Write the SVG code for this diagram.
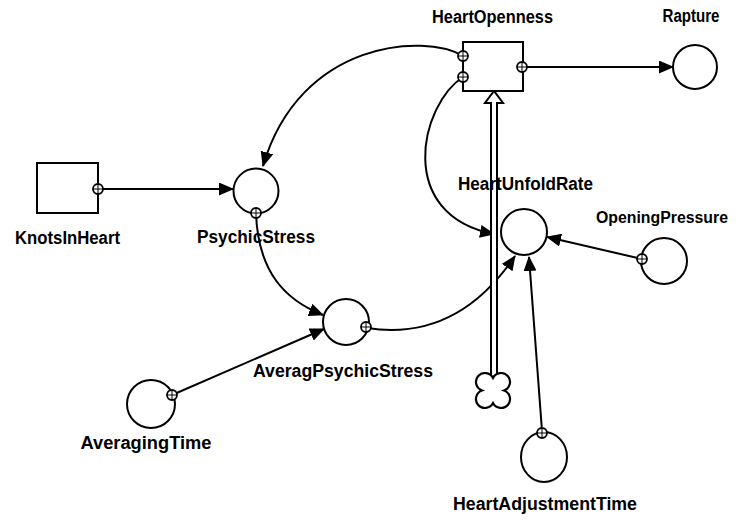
<svg xmlns="http://www.w3.org/2000/svg" width="739" height="520" viewBox="0 0 739 520">
<style>
.lbl{font-family:"Liberation Sans",Arial,sans-serif;font-size:18px;font-weight:bold;fill:#000;text-anchor:middle}
.stock{fill:#fff;stroke:#000;stroke-width:2}
.aux{fill:#fff;stroke:#000;stroke-width:2}
.conn{fill:none;stroke:#000;stroke-width:2}
.arr{fill:none;stroke:#000;stroke-width:2;marker-end:url(#ah)}
</style>
<defs>
<marker id="ah" markerUnits="userSpaceOnUse" markerWidth="15" markerHeight="13" refX="14" refY="6.5" orient="auto">
<path d="M0,0 L15,6.5 L0,13 Z" fill="#000"/>
</marker>
<g id="dot">
<circle r="5" fill="#fff" stroke="#000" stroke-width="1.8"/>
<path d="M0,-5 V5 M-5,0 H5" stroke="#000" stroke-width="1"/>
</g>
</defs>
<rect width="739" height="520" fill="#fff"/>

<g id="connectors">
<path class="arr" d="M522,67 L673,67"/>
<path class="arr" d="M98,189 L233,189"/>
<path class="arr" d="M463,56 C425,33 300,40 263,166"/>
<path class="arr" d="M463,77 C420,105 395,215 494,234"/>
<path class="arr" d="M256,213 C258,272 285,300 323,315"/>
<path class="arr" d="M172,395 L324,329"/>
<path class="arr" d="M367,328 C425,337 475,315 515,256"/>
<path class="arr" d="M642,259 L547,237"/>
<path class="arr" d="M542,431 L529,257"/>
</g>

<g id="flow">
<path d="M491,378 L491,103 L485,103 L494,91 L503,103 L497,103 L497,378" fill="#fff" stroke="#000" stroke-width="2"/>
<path d="M493,377.9 A9,9 0 1 1 504,390.5 A9,9 0 1 1 493,403.1 A9,9 0 1 1 482,390.5 A9,9 0 1 1 493,377.9 Z" fill="#fff" stroke="#000" stroke-width="2.2"/>
</g>

<g id="HeartOpenness">
<rect class="stock" x="463" y="42" width="60" height="49"/>
<use href="#dot" x="463" y="56"/>
<use href="#dot" x="463" y="77"/>
<use href="#dot" x="522" y="67"/>
<text class="lbl" x="492.5" y="23" textLength="121" lengthAdjust="spacingAndGlyphs">HeartOpenness</text>
</g>

<g id="Rapture">
<circle class="aux" cx="695" cy="67" r="22"/>
<text class="lbl" x="691" y="22" textLength="57" lengthAdjust="spacingAndGlyphs">Rapture</text>
</g>

<g id="KnotsInHeart">
<rect class="stock" x="37" y="163" width="61" height="50"/>
<use href="#dot" x="98" y="189"/>
<text class="lbl" x="67.5" y="244" textLength="105" lengthAdjust="spacingAndGlyphs">KnotsInHeart</text>
</g>

<g id="PsychicStress">
<circle class="aux" cx="256" cy="191" r="22.5"/>
<use href="#dot" x="256" y="213"/>
<text class="lbl" x="256" y="243" textLength="118" lengthAdjust="spacingAndGlyphs">PsychicStress</text>
</g>

<g id="HeartUnfoldRate">
<circle class="aux" cx="524" cy="232" r="23"/>
<text class="lbl" x="525.5" y="190" textLength="135" lengthAdjust="spacingAndGlyphs">HeartUnfoldRate</text>
</g>

<g id="OpeningPressure">
<circle class="aux" cx="664" cy="261" r="23"/>
<use href="#dot" x="642" y="259"/>
<text class="lbl" x="662" y="223" style="font-size:16px" textLength="132" lengthAdjust="spacingAndGlyphs">OpeningPressure</text>
</g>

<g id="AveragPsychicStress">
<circle class="aux" cx="346" cy="322" r="23"/>
<use href="#dot" x="366" y="327"/>
<text class="lbl" x="343" y="377" textLength="180" lengthAdjust="spacingAndGlyphs">AveragPsychicStress</text>
</g>

<g id="AveragingTime">
<circle class="aux" cx="151" cy="404" r="24"/>
<use href="#dot" x="172" y="395"/>
<text class="lbl" x="146" y="449" textLength="131" lengthAdjust="spacingAndGlyphs">AveragingTime</text>
</g>

<g id="HeartAdjustmentTime">
<ellipse class="aux" cx="544" cy="457" rx="23" ry="25"/>
<use href="#dot" x="542" y="433"/>
<text class="lbl" x="545" y="510" textLength="184" lengthAdjust="spacingAndGlyphs">HeartAdjustmentTime</text>
</g>
</svg>
